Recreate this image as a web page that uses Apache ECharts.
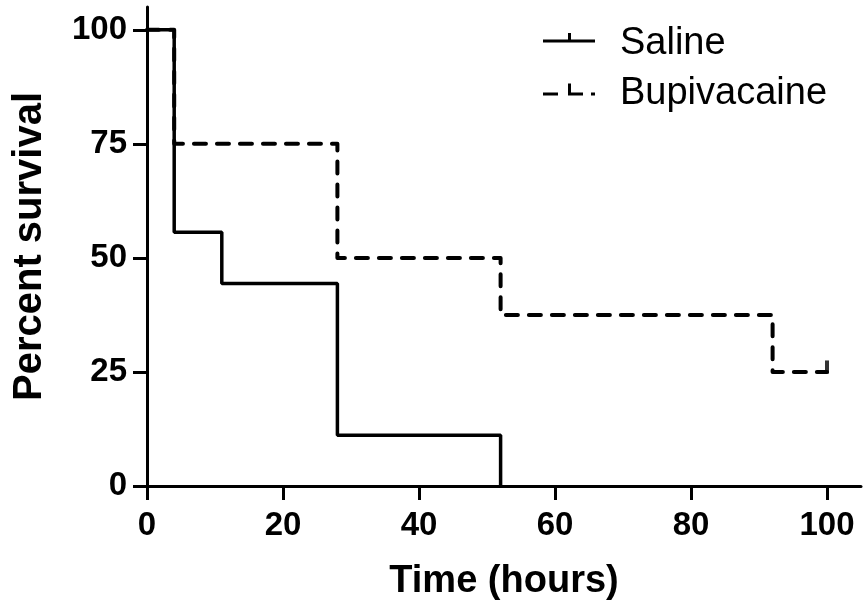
<!DOCTYPE html>
<html>
<head>
<meta charset="utf-8" />
<title>Percent survival</title>
<script src="https://cdn.jsdelivr.net/npm/echarts@6/dist/echarts.min.js"></script>
<style>
  html, body { margin: 0; padding: 0; background: #fff; }
  #chart { width: 864px; height: 602px; }
</style>
</head>
<body>
<div id="chart"></div>
<script>
// survival curves (time in hours, percent survival)
const salineTimes = [0, 4, 11, 28, 52];
const salineValues = [100, 55.6, 44.4, 11.1, 0];
const bupiTimes = [0, 4, 28, 52, 92, 100];
const bupiValues = [100, 75, 50, 37.5, 25, 25];
// censored observation
const bupiCensored = [[100, 25]];
const xTicks = [0, 20, 40, 60, 80, 100];
const yTicks = [0, 25, 50, 75, 100];

const font = "'Liberation Sans', Arial, sans-serif";
const pair = (xs, ys) => xs.map((x, i) => [x, ys[i]]);

// legend icons drawn in a 52x24 box; the tiny rects only pin the box corners
const salineIcon = 'path://M0 0H0.01V0.01H0Z M0 23.99H0.01V24H0Z M0 7.5H52V10.5H0Z M25 1H28V7.5H25Z';
const bupiIcon = 'path://M0 0H0.01V0.01H0Z M0 23.99H0.01V24H0Z M0 10.5H15V13.5H0Z M25 1.5H28V10.5H40V13.5H25Z M48 10.5H52V13.5H48Z';

const chart = echarts.init(document.getElementById('chart'));

const opt = {
  animation: false,
  backgroundColor: '#fff',
  grid: { left: 147, right: 3, top: 7, bottom: 116, containLabel: false, outerBoundsMode: 'none' },
  legend: {
    orient: 'vertical',
    left: 538,
    top: 20,
    itemWidth: 52,
    itemHeight: 24,
    itemGap: 12,
    textStyle: { fontFamily: font, fontSize: 38, color: '#000', padding: [0, 0, 0, 20] },
    data: [
      { name: 'Saline', icon: salineIcon },
      { name: 'Bupivacaine', icon: bupiIcon }
    ]
  },
  xAxis: {
    type: 'value',
    min: 0,
    max: 105,
    name: 'Time (hours)',
    nameLocation: 'middle',
    nameGap: 77,
    nameTextStyle: { fontFamily: font, fontSize: 38, fontWeight: 'bold', color: '#000' },
    axisLine: { lineStyle: { color: '#000', width: 3 } },
    axisTick: { length: 14, lineStyle: { color: '#000', width: 3 }, customValues: xTicks },
    axisLabel: { fontFamily: font, fontSize: 33, fontWeight: 'bold', color: '#000', margin: 23, customValues: xTicks },
    splitLine: { show: false }
  },
  yAxis: {
    type: 'value',
    min: 0,
    max: 105,
    name: 'Percent survival',
    nameLocation: 'middle',
    nameGap: 97,
    nameTextStyle: { fontFamily: font, fontSize: 40, fontWeight: 'bold', color: '#000' },
    axisLine: { show: true, lineStyle: { color: '#000', width: 3 } },
    axisTick: { show: true, length: 14, lineStyle: { color: '#000', width: 3 }, customValues: yTicks },
    axisLabel: { fontFamily: font, fontSize: 33, fontWeight: 'bold', color: '#000', margin: 20, customValues: yTicks },
    splitLine: { show: false }
  },
  series: [
    {
      name: 'Bupivacaine',
      type: 'line',
      step: 'end',
      data: pair(bupiTimes, bupiValues),
      showSymbol: false,
      symbol: 'none',
      color: '#000',
      lineStyle: { color: '#000', width: 4, type: [12, 11], cap: 'round', join: 'round' },
      z: 2
    },
    {
      name: 'Bupivacaine',
      type: 'scatter',
      data: bupiCensored,
      symbol: 'rect',
      symbolSize: [4, 13],
      symbolOffset: [0, -5],
      itemStyle: { color: '#000' },
      z: 2
    },
    {
      name: 'Saline',
      type: 'line',
      step: 'end',
      data: pair(salineTimes, salineValues),
      showSymbol: false,
      symbol: 'none',
      color: '#000',
      lineStyle: { color: '#000', width: 3.5 },
      z: 3
    }
  ]
};

chart.setOption(opt);
</script>
</body>
</html>
